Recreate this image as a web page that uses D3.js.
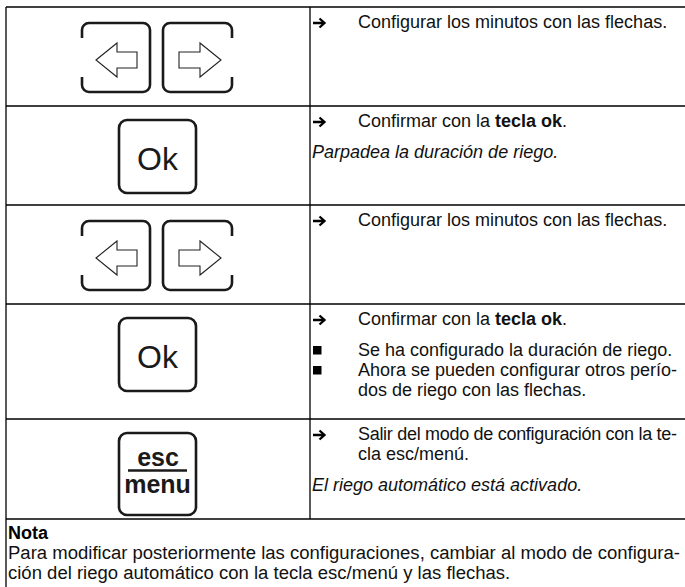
<!DOCTYPE html>
<html><head><meta charset="utf-8">
<script src="https://cdn.jsdelivr.net/npm/d3@7"></script>
<style>html,body{margin:0;padding:0;background:#fff}svg{display:block}</style>
</head><body>
<svg id="c" width="685" height="587"></svg>
<script>
// ---------- content ----------
const stepKeys = ["arrows", "ok", "arrows", "ok", "escmenu"];
const rowHeights = [99, 99, 99, 115, 100];
const keyLabels = { ok: ["Ok"], escmenu: ["esc", "menu"] };
const rowParagraphs = [
  [ { mark: "arrow", lines: [[["Configurar los minutos con las flechas.", ""]]] } ],
  [ { mark: "arrow", lines: [[["Confirmar con la ", ""], ["tecla ok", "b"], [".", ""]]] },
    { mark: "none", lines: [[["Parpadea la duración de riego.", "i"]]] } ],
  [ { mark: "arrow", lines: [[["Configurar los minutos con las flechas.", ""]]] } ],
  [ { mark: "arrow", lines: [[["Confirmar con la ", ""], ["tecla ok", "b"], [".", ""]]] },
    { mark: "bullet", lines: [[["Se ha configurado la duración de riego.", ""]]] },
    { mark: "bullet", lines: [[["Ahora se pueden configurar otros perío-", ""]], [["dos de riego con las flechas.", ""]]] } ],
  [ { mark: "arrow", lines: [[["Salir del modo de configuración con la te-", ""]], [["cla esc/menú.", ""]]] },
    { mark: "none", lines: [[["El riego automático está activado.", "i"]]] } ]
];
const noteTitle = "Nota";
const noteLines = [
  "Para modificar posteriormente las configuraciones, cambiar al modo de configura-",
  "ción del riego automático con la tecla esc/menú y las flechas."
];

// ---------- layout ----------
const FONT = "'Liberation Sans', Arial, Helvetica, sans-serif";
const svg = d3.select("#c");
const W = 685, H = 587;
const xLeft = 6, xDiv = 310, xRight = 690, xTextRight = 677;
const total = d3.sum(rowHeights);
const y = d3.scaleLinear().domain([0, total]).range([7, 519]);
const cum = [0, ...d3.cumsum(rowHeights)];
const rows = stepKeys.map((k, i) => ({ key: k, top: y(cum[i]), bottom: y(cum[i + 1]), paras: rowParagraphs[i] }));

// table lines
const g = svg.append("g");
g.selectAll("line.h").data(cum).join("line")
  .attr("x1", xLeft).attr("x2", xRight)
  .attr("y1", d => y(d)).attr("y2", d => y(d))
  .attr("stroke", "#000").attr("stroke-width", 1.3);
g.append("line").attr("x1", xLeft).attr("x2", xLeft).attr("y1", y(0)).attr("y2", H)
  .attr("stroke", "#000").attr("stroke-width", 1.3);
g.append("line").attr("x1", xDiv).attr("x2", xDiv).attr("y1", y(0)).attr("y2", y(total))
  .attr("stroke", "#000").attr("stroke-width", 1.3);

// key drawing helpers
function bracketPath(x0, y0, x1, y1, r, openSide, gap) {
  const p = d3.path();
  if (openSide === "left") {
    p.moveTo(x0, y0 + gap);
    p.lineTo(x0, y0 + r); p.arcTo(x0, y0, x0 + r, y0, r);
    p.lineTo(x1 - r, y0); p.arcTo(x1, y0, x1, y0 + r, r);
    p.lineTo(x1, y1 - r); p.arcTo(x1, y1, x1 - r, y1, r);
    p.lineTo(x0 + r, y1); p.arcTo(x0, y1, x0, y1 - r, r);
    p.lineTo(x0, y1 - gap);
  } else {
    p.moveTo(x1, y0 + gap);
    p.lineTo(x1, y0 + r); p.arcTo(x1, y0, x1 - r, y0, r);
    p.lineTo(x0 + r, y0); p.arcTo(x0, y0, x0, y0 + r, r);
    p.lineTo(x0, y1 - r); p.arcTo(x0, y1, x0 + r, y1, r);
    p.lineTo(x1 - r, y1); p.arcTo(x1, y1, x1, y1 - r, r);
    p.lineTo(x1, y1 - gap);
  }
  return p.toString();
}
function arrowPath(tip, base, tail, cy, hh, sh) {
  return `M${tip},${cy} L${base},${cy - hh} L${base},${cy - sh} L${tail},${cy - sh} L${tail},${cy + sh} L${base},${cy + sh} L${base},${cy + hh} Z`;
}

rows.forEach(r => {
  const kg = svg.append("g");
  if (r.key === "arrows") {
    const t = r.top + 16, b = r.top + 85;
    kg.append("path").attr("d", bracketPath(82, t, 150, b, 7, "left", 15))
      .attr("fill", "none").attr("stroke", "#1a1a1a").attr("stroke-width", 2.6);
    kg.append("path").attr("d", bracketPath(163, t, 232, b, 7, "right", 15))
      .attr("fill", "none").attr("stroke", "#1a1a1a").attr("stroke-width", 2.6);
    const cy = r.top + 53;
    kg.append("path").attr("d", arrowPath(96, 117, 137, cy, 17, 8))
      .attr("fill", "#fff").attr("stroke", "#222").attr("stroke-width", 1.1);
    kg.append("path").attr("d", arrowPath(221, 200, 179, cy, 17, 8))
      .attr("fill", "#fff").attr("stroke", "#222").attr("stroke-width", 1.1);
  } else if (r.key === "ok") {
    const t = r.top + 14, h = 73;
    kg.append("rect").attr("x", 119).attr("y", t).attr("width", 77).attr("height", h)
      .attr("rx", 8).attr("fill", "none").attr("stroke", "#1a1a1a").attr("stroke-width", 2.6);
    kg.append("text").attr("x", 157.5).attr("y", t + 50).attr("text-anchor", "middle")
      .attr("font-family", FONT).attr("font-size", 32).attr("fill", "#1a1a1a").text(keyLabels.ok[0]);
  } else {
    const t = r.top + 14, h = 82;
    kg.append("rect").attr("x", 119).attr("y", t).attr("width", 77).attr("height", h)
      .attr("rx", 8).attr("fill", "none").attr("stroke", "#1a1a1a").attr("stroke-width", 2.6);
    kg.append("text").attr("x", 158).attr("y", t + 33).attr("text-anchor", "middle")
      .attr("font-family", FONT).attr("font-size", 25).attr("font-weight", "bold").attr("fill", "#1a1a1a").text(keyLabels.escmenu[0]);
    kg.append("line").attr("x1", 128).attr("x2", 187).attr("y1", t + 37.5).attr("y2", t + 37.5)
      .attr("stroke", "#1a1a1a").attr("stroke-width", 2.6);
    kg.append("text").attr("x", 157.5).attr("y", t + 60).attr("text-anchor", "middle")
      .attr("font-family", FONT).attr("font-size", 25).attr("font-weight", "bold").attr("fill", "#1a1a1a").text(keyLabels.escmenu[1]);
  }

  // right column text
  let base = r.top + 21;
  r.paras.forEach((p, pi) => {
    if (pi > 0) {
      const prev = r.paras[pi - 1];
      base += (prev.mark === "bullet" && p.mark === "bullet") ? 20 : 31;
    }
    const tx = p.mark === "none" ? 312 : 358;
    if (p.mark === "arrow") {
      const cy = base - 5;
      kg.append("path").attr("d", `M313,${cy} L324,${cy} M319.5,${cy - 4.5} L324.5,${cy} L319.5,${cy + 4.5}`)
        .attr("fill", "none").attr("stroke", "#000").attr("stroke-width", 2.3);
    } else if (p.mark === "bullet") {
      kg.append("rect").attr("x", 313).attr("y", base - 10).attr("width", 8.5).attr("height", 8.5).attr("fill", "#000");
    }
    p.lines.forEach((runs, li) => {
      if (li > 0) base += 20;
      const t = kg.append("text").attr("x", tx).attr("y", base)
        .attr("font-family", FONT).attr("font-size", 18).attr("fill", "#111");
      runs.forEach(([s, st]) => {
        t.append("tspan").text(s)
          .attr("font-weight", st === "b" ? "bold" : "normal")
          .attr("font-style", st === "i" ? "italic" : "normal");
      });
      // hyphenated lines are justified to the column edge
      const last = runs[runs.length - 1][0];
      if (last.endsWith("-")) {
        t.attr("textLength", xTextRight - tx).attr("lengthAdjust", "spacing");
      }
    });
  });
});

// note
svg.append("text").attr("x", 8).attr("y", 539).attr("font-family", FONT)
  .attr("font-size", 18).attr("font-weight", "bold").attr("fill", "#000").text(noteTitle);
const nl = svg.selectAll("text.note").data(noteLines).join("text").attr("class", "note")
  .attr("x", 8).attr("y", (d, i) => 559 + i * 20)
  .attr("font-family", FONT).attr("font-size", 18).attr("fill", "#111").text(d => d);
const nat0 = nl.nodes()[0].getComputedTextLength();
const factor = 672 / nat0;
nl.each(function () {
  const n = this.getComputedTextLength();
  d3.select(this).attr("textLength", n * factor).attr("lengthAdjust", "spacingAndGlyphs");
});
</script>
</body></html>
